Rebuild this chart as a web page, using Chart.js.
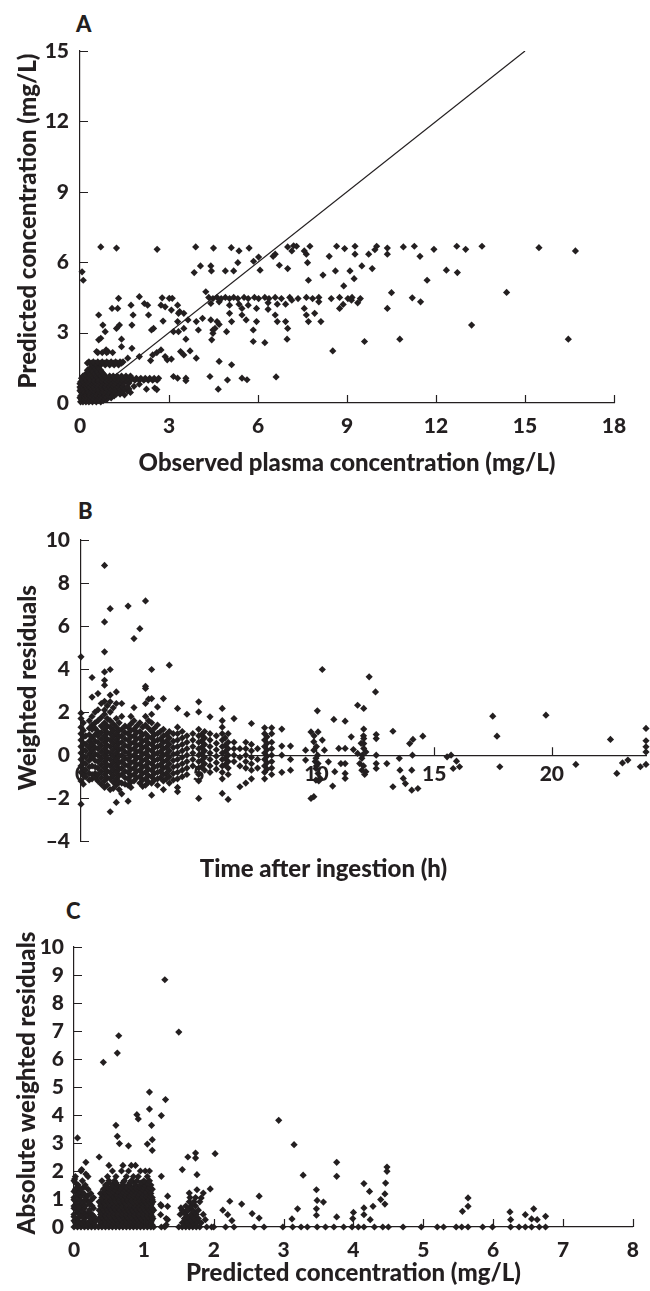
<!DOCTYPE html>
<html>
<head>
<meta charset="utf-8">
<script src="https://cdn.jsdelivr.net/npm/chart.js@4.4.1/dist/chart.umd.min.js"></script>
<style>
  body { margin: 0; background: #fff; width: 650px; height: 1291px; position: relative; overflow: hidden; }
  canvas { position: absolute; left: 0; }
  .panel { position: absolute; font: 900 22px Lato, sans-serif; color: #231f20; }
</style>
</head>
<body>
<div class="panel" style="left:76px; top:10px;">A</div>
<div class="panel" style="left:78px; top:497px;">B</div>
<div class="panel" style="left:66px; top:897px;">C</div>
<canvas id="chartA" width="650" height="485" style="top:0px"></canvas>
<canvas id="chartB" width="650" height="400" style="top:490px"></canvas>
<canvas id="chartC" width="650" height="396" style="top:895px"></canvas>
<script>
const ink = '#231f20';

// ---- Panel A: observed vs predicted (mg/L) ----
const identityLine = [0, 15];
const aScatter = [
  [0.7,6.65],[1.23,6.6],[2.6,6.55],[3.9,6.65],[4.5,6.6],[5.1,6.62],[5.7,6.6],[7.0,6.65],[7.2,6.7],[7.3,6.68],
  [7.75,6.68],[8.65,6.68],[9.27,6.68],[10.0,6.68],[10.9,6.65],[11.27,6.68],[12.7,6.68],[13.55,6.68],[16.7,6.48],[15.47,6.62],
  [13.0,6.55],[10.36,6.6],[10.36,6.34],[11.93,6.55],[9.27,6.34],[9.73,6.34],[9.94,6.53],[8.92,6.58],[7.63,6.34],[7.56,6.48],
  [7.14,6.48],[6.58,6.34],[6.51,6.25],[6.02,6.22],[5.36,6.48],[11.46,6.25],[8.4,6.25],[7.67,5.98],[5.85,6.04],[6.07,5.66],
  [6.72,5.87],[5.32,5.98],[4.06,5.84],[4.41,5.84],[3.85,5.56],[4.43,5.63],[4.9,5.63],[5.18,5.63],[7.0,5.73],[8.61,5.63],
  [8.19,5.45],[9.1,5.63],[9.5,5.84],[9.85,5.73],[9.24,5.3],[12.35,5.66],[12.72,5.56],[11.7,5.23],[7.7,5.23],[8.89,4.99],
  [0.07,5.59],[0.11,5.23],
  [4.34,4.5],[4.48,4.45],[4.62,4.5],[4.76,4.45],[4.9,4.5],[5.04,4.45],[5.18,4.5],[5.32,4.45],[5.53,4.5],[5.67,4.45],
  [5.88,4.5],[6.02,4.45],[6.23,4.5],[6.37,4.45],[6.58,4.5],[6.79,4.45],[7.07,4.5],[7.35,4.45],[7.63,4.5],[7.84,4.45],
  [8.05,4.5],[8.47,4.45],[8.75,4.5],[9.03,4.45],[9.17,4.5],[9.45,4.45],
  [4.41,4.24],[4.69,4.31],[5.04,4.17],[5.36,4.21],[5.46,4.03],[5.67,4.17],[5.95,4.03],[6.34,4.27],[6.65,4.21],[6.93,4.21],
  [7.14,4.38],[7.56,4.03],[8.05,4.31],[8.75,4.03],[8.87,4.2],[9.36,4.27],[9.15,4.38],[10.36,4.03],[10.5,4.7],[11.2,4.48],
  [11.48,4.31],[14.38,4.71],[4.24,4.74],
  [7.91,3.82],[7.7,3.47],[8.12,3.47],[7.63,3.75],[6.93,3.47],[7.0,3.18],[6.98,2.72],[6.58,3.75],[6.65,3.47],[6.34,3.99],
  [5.95,3.47],[5.84,3.11],[5.6,3.54],[5.46,3.75],[5.04,3.82],[5.11,3.47],[4.94,3.04],[4.62,3.47],[4.55,3.18],[4.41,3.54],
  [4.48,3.11],[4.44,2.69],[4.48,2.97],[4.69,3.35],[4.13,3.61],[3.92,3.47],[3.99,3.11],[3.64,3.54],[3.32,3.82],[3.29,3.47],
  [3.5,3.18],[3.32,3.04],[3.57,2.72],[3.15,3.04],[3.08,3.96],[3.01,4.46],[3.11,4.46],[2.77,4.48],[2.73,4.17],[2.87,4.1],
  [2.8,3.49],[2.48,3.18],[2.41,3.11],[2.31,3.75],[2.28,4.17],[2.17,4.24],[2.0,4.53],[1.72,4.17],[1.79,3.75],[1.75,3.32],
  [1.3,4.46],[1.08,4.03],[1.27,4.03],[0.63,3.75],[0.77,3.32],[0.85,3.04],[1.23,3.18],[1.33,3.32],[1.4,2.72],[0.63,2.69],
  [0.7,2.76],[0.88,2.26],[0.94,2.19],[1.4,2.4],[1.75,2.33],[1.61,1.91],[0.56,2.19],[3.5,3.82],[3.36,3.89],[3.29,4.17],
  [2.73,2.26],[2.59,2.15],[2.45,2.05],[2.38,1.81],[2.87,1.98],[2.94,1.84],[3.08,1.87],[3.39,2.19],[3.5,2.05],[3.71,2.22],
  [3.92,1.91],[5.84,2.62],[6.23,2.57],[9.59,2.62],[10.78,2.72],[16.46,2.72],[13.2,3.32],[8.52,2.22],[2.0,1.98],
  [3.15,1.13],[3.29,1.06],[3.57,1.06],[3.57,0.95],[4.38,1.13],[4.97,0.98],[5.46,1.06],[5.63,0.99],[6.61,1.11],[4.66,0.59],
  [4.69,1.77],[5.11,1.63],[2.24,0.59],[2.52,0.64],[2.59,0.57],[1.82,0.71],[1.65,0.85],[2.0,0.8],[1.5,0.35],[1.7,0.45]
];
// dense cluster near the origin, one row per predicted level: [predicted, [observed...]]
const aClusterRows = [
  [0.05, [0.02,0.1,0.2,0.3,0.42,0.55,0.7]],
  [0.1,  [0.08,0.25,0.36,0.48,0.62,0.78]],
  [0.15, [0.05,0.15,0.28,0.38,0.5,0.62,0.9]],
  [0.22, [0.0,0.1,0.2,0.32,0.44,0.56,0.68,0.8,1.05]],
  [0.3,  [0.02,0.12,0.22,0.35,0.47,0.58,0.7,0.85,1.0,1.15]],
  [0.38, [0.08,0.18,0.28,0.4,0.52,0.64,0.77,0.92,1.07,1.22,1.35]],
  [0.45, [0.05,0.18,0.3,0.42,0.55,0.68,0.8,0.95,1.1,1.25,1.4]],
  [0.52, [0.0,0.1,0.24,0.36,0.48,0.61,0.74,0.87,1.0,1.15,1.3,1.45,1.6]],
  [0.6,  [0.02,0.12,0.25,0.37,0.5,0.62,0.75,0.9,1.05,1.2,1.35,1.5,1.65]],
  [0.68, [0.0,0.1,0.22,0.35,0.48,0.6,0.72,0.86,1.0,1.15,1.3,1.45,1.58]],
  [0.75, [0.06,0.18,0.3,0.43,0.56,0.7,0.83,0.97,1.1,1.25,1.4]],
  [0.82, [0.0,0.1,0.22,0.35,0.48,0.6,0.72,0.86,1.0,1.15,1.3,1.45]],
  [0.9,  [0.02,0.14,0.27,0.4,0.52,0.65,0.78,0.92,1.05,1.2,1.35,1.5,1.62]],
  [0.97, [0.08,0.2,0.33,0.46,0.59,0.72,0.85,0.98,1.12,1.27,1.42,1.55,1.7,1.85,2.0,2.15,2.3,2.45,2.6]],
  [1.05, [0.05,0.2,0.33,0.47,0.6,0.75,0.9,1.02,1.15,1.3,1.45,1.6,1.75,1.9,2.05,2.2,2.35,2.5,2.65]],
  [1.15, [0.1,0.25,0.4,0.55,0.7,0.85,1.0,1.12,1.25,1.4,1.55,1.7]],
  [1.22, [0.18,0.32,0.5,0.66,0.8]],
  [1.3,  [0.3,0.45,0.6,0.75]],
  [1.4,  [0.25,0.4,0.55,0.7]],
  [1.5,  [0.35,0.5,0.62]],
  [1.62, [0.4,0.55,0.7,0.85,1.0,1.15,1.3]],
  [1.7,  [0.25,0.38,0.52,0.68,0.82,0.97,1.12,1.27,1.4]],
  [1.75, [0.3,0.45,0.6,0.75,0.9,1.05,1.2,1.35,1.45]],
  [2.15, [0.6,0.75,0.9,1.1]]
];

// ---- Panel B: weighted residuals vs time (h), one column per sampling time ----
const bColumns = [
  [0.0,  [4.57,1.95,1.7,1.3,1.0,0.7,0.4,0.1,-0.2,-0.5,-0.8,-1.2,-2.28]],
  [0.1,  [1.5,1.15,0.85,0.55,0.25,-0.05,-0.35,-0.65,-0.95,-1.35]],
  [0.2,  [0.9,0.5,0.2,-0.1,-0.4,-0.7,-1.0]],
  [0.35, [1.6,1.25,0.95,0.65,0.35,0.05,-0.25,-0.55,-0.85,-1.15]],
  [0.47, [3.61,2.7,1.8,1.4,1.2,0.8,0.5,0.2,-0.1,-0.5,-0.9,-1.1]],
  [0.6,  [2.0,1.5,1.25,0.95,0.65,0.35,0.05,-0.25,-0.55,-0.85,-1.05]],
  [0.72, [2.86,2.1,1.6,1.1,0.9,0.6,0.3,0.0,-0.3,-0.6,-0.9,-1.2]],
  [0.86, [2.4,1.75,1.35,1.05,0.75,0.45,0.15,-0.15,-0.45,-0.75,-1.05,-1.35]],
  [1.0,  [8.82,6.19,4.8,3.87,3.48,3.25,2.5,2.1,1.9,1.5,1.2,0.9,0.6,0.3,0.0,-0.3,-0.6,-0.9,-1.2,-1.5]],
  [1.12, [2.3,1.7,1.35,1.05,0.75,0.45,0.15,-0.15,-0.45,-0.75,-1.05,-1.4]],
  [1.24, [6.81,3.98,2.79,2.48,2.0,1.6,1.3,1.0,0.7,0.4,0.1,-0.2,-0.5,-0.8,-1.1,-1.6,-2.63]],
  [1.37, [2.2,1.45,1.15,0.85,0.55,0.25,-0.05,-0.35,-0.65,-0.95,-1.25,-1.55]],
  [1.5,  [2.94,2.4,1.7,1.3,1.0,0.7,0.4,0.1,-0.2,-0.5,-0.8,-1.1,-1.4,-2.2]],
  [1.62, [1.5,1.15,0.85,0.55,0.25,-0.05,-0.35,-0.65,-0.95,-1.25,-1.6]],
  [1.73, [2.4,1.8,1.2,0.9,0.6,0.3,0.0,-0.3,-0.6,-0.9,-1.3,-1.8]],
  [1.87, [1.35,1.05,0.75,0.45,0.15,-0.15,-0.45,-0.75,-1.05,-1.35]],
  [2.0,  [6.93,1.3,1.0,0.7,0.4,0.1,-0.2,-0.5,-0.8,-1.1,-1.4,-2.14]],
  [2.12, [1.8,1.45,1.15,0.85,0.55,0.25,-0.05,-0.35,-0.65,-0.95,-1.25,-1.5]],
  [2.25, [5.42,2.21,1.6,1.2,0.9,0.6,0.3,0.0,-0.3,-0.6,-0.9,-1.2]],
  [2.37, [1.35,1.05,0.75,0.45,0.15,-0.15,-0.45,-0.75,-1.05]],
  [2.5,  [5.88,1.5,1.1,0.8,0.5,0.2,-0.1,-0.4,-0.7,-1.0,-1.3]],
  [2.62, [1.3,0.95,0.65,0.35,0.05,-0.25,-0.55,-0.85,-1.15,-1.45]],
  [2.74, [7.17,3.2,3.1,2.4,1.8,1.4,1.0,0.7,0.4,0.1,-0.2,-0.5,-0.8,-1.1,-1.4]],
  [2.87, [2.6,1.6,1.25,0.85,0.55,0.25,-0.05,-0.35,-0.65,-0.95,-1.25]],
  [3.0,  [3.98,2.63,1.9,1.5,1.1,0.8,0.5,0.2,-0.1,-0.4,-0.7,-1.0,-1.3,-1.86]],
  [3.12, [1.25,0.95,0.65,0.35,0.05,-0.25,-0.55,-0.85,-1.15]],
  [3.25, [2.24,1.4,1.0,0.7,0.4,0.1,-0.2,-0.5,-0.8,-1.1,-1.4]],
  [3.37, [1.1,0.75,0.45,0.15,-0.15,-0.45,-0.75,-1.05]],
  [3.5,  [2.63,1.2,0.9,0.6,0.3,0.0,-0.3,-0.6,-0.9,-1.2,-1.6]],
  [3.62, [0.95,0.65,0.35,0.05,-0.25,-0.55,-0.85,-1.1]],
  [3.75, [4.18,1.1,0.8,0.5,0.2,-0.1,-0.4,-0.7,-1.0,-1.3]],
  [3.92, [1.0,0.65,0.35,0.05,-0.25,-0.55,-0.85,-1.15]],
  [4.1,  [2.17,1.3,1.0,0.7,0.4,0.1,-0.2,-0.5,-0.8,-1.1,-1.5,-1.7]],
  [4.3,  [1.1,0.8,0.5,0.2,-0.1,-0.4,-0.7,-1.0]],
  [4.5,  [1.9,0.9,0.6,0.3,0.0,-0.3,-0.6,-0.9]],
  [4.75, [1.0,0.7,0.4,0.1,-0.2,-0.5]],
  [5.0,  [2.48,2.01,1.2,0.9,0.6,0.3,0.0,-0.3,-0.6,-0.9,-1.2,-2.01]],
  [5.12, [0.95,0.65,0.35,0.05,-0.25,-0.55]],
  [5.25, [1.1,0.8,0.5,0.2,-0.1,-0.4,-0.7]],
  [5.48, [1.78,1.0,0.7,0.4,0.1,-0.2,-0.5,-0.8]],
  [5.75, [0.9,0.55,0.25,-0.05,-0.35,-0.65]],
  [6.0,  [2.17,1.6,1.3,1.0,0.7,0.4,0.1,-0.2,-0.5,-0.8,-1.1,-1.78]],
  [6.12, [0.8,0.45,0.15,-0.15,-0.45]],
  [6.25, [1.0,0.6,0.3,0.0,-0.3,-0.6,-0.9,-2.06]],
  [6.5,  [1.7,0.6,0.3,0.0,-0.3]],
  [6.75, [0.3,-0.1,-0.5,-1.47]],
  [7.0,  [0.6,0.3,0.0,-0.3,-0.6,-1.3]],
  [7.24, [1.47,0.5,0.2,-0.1,-0.4,-0.7,-1.1]],
  [7.5,  [0.3,-0.2,-0.6]],
  [7.8,  [1.27,1.0,0.7,0.4,0.1,-0.2,-0.5,-0.8,-1.1]],
  [7.9,  [0.85,0.55,0.25,-0.05,-0.35,-0.65]],
  [8.1,  [1.27,1.0,0.6,0.3,0.0,-0.3,-0.6,-0.9]],
  [8.53, [1.21,0.42,0.0,-0.8]],
  [8.9,  [0.42,-0.2,-0.7]]
];
const bScatter = [
  [10.04,2.06],[10.25,3.98],[10.74,1.66],[11.22,1.58],[11.75,2.32],[12.01,2.17],[12.24,3.64],[12.51,2.94],[13.25,1.11],[14.1,0.73],
  [13.96,0.54],[14.52,0.88],[17.49,1.81],[17.67,0.88],[19.75,1.86],[22.49,0.73],[24,1.24],[24,0.67],[24,0.39],[24,0.15],
  [24,-0.43],[23.76,-0.54],[23.23,-0.23],[23.0,-0.36],[22.76,-0.85],[21.02,-0.43],[17.79,-0.54],[15.72,0],[15.55,-0.08],[15.95,-0.28],
  [16.08,-0.54],[15.81,-0.62],[14.08,0],[13.52,-0.15],[13.55,-0.7],[13.69,-1.08],[13.78,-1.32],[13.25,-1.47],[14.05,-1.63],[14.31,-1.55],
  [14.05,-0.7],[12.99,-0.39],[12.54,-0.39],[12.54,-0.62],[12.54,0.77],[12.54,0.96],[12.54,0],[12.01,1.21],[12.01,0.77],[12.01,0.54],
  [12.01,0.31],[11.93,-0.15],[11.84,-0.39],[11.93,-0.7],[12.1,-0.77],[11.75,0.08],[11.57,0.26],[11.48,0.85],[11.22,0.31],[11.22,-0.39],
  [11.22,-0.85],[11.22,-1.08],[10.95,0.31],[11.04,-0.39],[10.69,-1.44],[10.78,-0.77],[10.51,-0.31],[10.34,0.23],[10.25,0.7],[10.07,1.08],
  [10.16,-1.08],[9.98,-1.16],[9.89,-1.93],[9.77,-2.01],[9.77,1.08],[9.89,0.62],[9.89,0.23],[9.98,-0.15],[10.07,-0.39],[9.98,-0.62],
  [10.07,-0.85],[9.54,-0.23],[9.54,0.23],[12.0,-0.5],[12.05,-0.9],[11.95,0.0],[12.1,0.15],[11.9,0.55],[12.0,0.9],[10.0,0.4],
  [10.05,0.0],[9.95,-0.3],[10.0,-0.5],[10.1,-1.2],[9.9,0.9]
];

// ---- Panel C: absolute weighted residuals vs predicted (mg/L) ----
const cRows = [
  [0,    [0,0.05,0.1,0.15,0.2,0.25,0.3,0.35,0.4,0.45,0.5,0.55,0.6,0.65,0.7,0.75,0.8,0.85,0.9,0.95,1.0,1.05,1.1,1.14,
          1.25,1.3,1.5,1.55,1.6,1.65,1.7,1.75,1.8,1.9,1.97,2.0,2.17,2.29,2.58,2.72,2.99,3.13,3.25,3.34,3.48,3.6,3.72,
          3.86,3.98,4.07,4.15,4.3,4.42,4.5,4.71,4.97,5.2,5.29,5.47,5.55,5.64,5.85,5.99,6.25,6.37,6.46,6.55,6.66,6.75]],
  [0.07, [0.03,0.08,0.13,0.18,0.24,0.3,0.4,0.47,0.53,0.59,0.65,0.71,0.77,0.83,0.89,0.95,1.01,1.07,1.12,1.58,1.66,1.74]],
  [0.15, [0.02,0.1,0.2,0.28,0.38,0.44,0.5,0.56,0.62,0.68,0.74,0.8,0.86,0.92,0.98,1.04,1.1,1.55,1.62,1.7,1.76,1.82]],
  [0.22, [0.0,0.06,0.14,0.24,0.31,0.39,0.45,0.51,0.57,0.63,0.69,0.75,0.81,0.87,0.93,0.99,1.05,1.11,1.6,1.68,1.76]],
  [0.3,  [0.05,0.15,0.25,0.36,0.42,0.48,0.54,0.6,0.66,0.72,0.78,0.84,0.9,0.96,1.02,1.08,1.13,1.32,1.58,1.66,1.72,1.78]],
  [0.37, [0.0,0.08,0.12,0.21,0.29,0.4,0.46,0.52,0.58,0.64,0.7,0.76,0.82,0.88,0.94,1.0,1.06,1.12,1.62,1.7]],
  [0.45, [0.0,0.1,0.18,0.26,0.38,0.44,0.5,0.56,0.62,0.68,0.74,0.8,0.86,0.92,0.98,1.04,1.1,1.52,1.6,1.68,1.75,1.85]],
  [0.52, [0.06,0.14,0.22,0.39,0.45,0.51,0.57,0.63,0.69,0.75,0.81,0.87,0.93,0.99,1.05,1.11,1.58,1.72]],
  [0.6,  [0.04,0.12,0.22,0.36,0.42,0.48,0.54,0.6,0.66,0.72,0.78,0.84,0.9,0.96,1.02,1.08,1.14,1.55,1.64,1.7,1.78]],
  [0.67, [0.0,0.08,0.15,0.28,0.4,0.46,0.52,0.58,0.64,0.7,0.76,0.82,0.88,0.94,1.0,1.06,1.12,1.66]],
  [0.75, [0.0,0.08,0.16,0.26,0.38,0.44,0.5,0.56,0.62,0.68,0.74,0.8,0.86,0.92,0.98,1.04,1.1,1.25,1.6,1.68,1.74]],
  [0.82, [0.04,0.12,0.22,0.39,0.45,0.51,0.57,0.63,0.69,0.75,0.81,0.87,0.93,0.99,1.05,1.11,1.7]],
  [0.9,  [0.03,0.12,0.2,0.36,0.42,0.48,0.54,0.6,0.66,0.72,0.78,0.84,0.9,0.96,1.02,1.08,1.13,1.65,1.72,1.8]],
  [0.97, [0.0,0.08,0.16,0.25,0.4,0.46,0.52,0.58,0.64,0.7,0.76,0.82,0.88,0.94,1.0,1.06,1.12]],
  [1.05, [0.0,0.08,0.17,0.28,0.4,0.46,0.52,0.58,0.64,0.7,0.76,0.82,0.88,0.94,1.0,1.06,1.12,1.66,1.74]],
  [1.12, [0.04,0.1,0.2,0.43,0.49,0.55,0.61,0.67,0.73,0.79,0.85,0.91,0.97,1.03,1.09]],
  [1.2,  [0.05,0.14,0.24,0.38,0.45,0.52,0.6,0.68,0.74,0.8,0.86,0.92,0.98,1.04,1.1]],
  [1.27, [0.0,0.08,0.44,0.5,0.56,0.62,0.7,0.76,0.82,0.88,0.95,1.02,1.09]],
  [1.35, [0.02,0.1,0.2,0.42,0.5,0.58,0.66,0.72,0.78,0.85,0.9,0.98,1.06,1.12]],
  [1.42, [0.05,0.14,0.48,0.54,0.6,0.68,0.75,0.82,0.88,0.94,1.0,1.08]],
  [1.5,  [0.06,0.16,0.45,0.55,0.62,0.7,0.78,0.88,0.95,1.02,1.1]],
  [1.58, [0.02,0.5,0.6,0.7,0.8,0.86,0.96,1.04]],
  [1.65, [0.0,0.12,0.4,0.5,0.58,0.72,0.82,0.9,1.0,1.08]],
  [1.8,  [0.02,0.2,0.48,0.6,0.75,0.85,0.92,1.05]],
  [2.0,  [0.1,0.55,0.68,0.78,0.95,1.02,1.08]],
  [2.2,  [0.5,0.7,0.82,0.88]]
];
const cScatter = [
  [1.3,8.83],[1.5,6.96],[0.64,6.83],[0.62,6.21],[0.42,5.88],[1.08,4.82],[1.31,4.55],[1.08,4.21],[1.25,3.98],[0.9,4.01],
  [0.92,3.86],[1.11,3.63],[0.6,3.63],[0.05,3.18],[0.62,3.24],[1.12,3.12],[1.05,2.96],[1.12,2.74],[0.65,2.98],[0.78,2.9],
  [2.93,3.81],[3.15,2.94],[2.02,2.62],[1.74,2.64],[1.74,2.46],[1.63,2.5],[1.55,2.05],[1.76,1.87],[1.95,1.36],[1.25,1.81],
  [0.36,2.5],[0.17,2.31],[0.11,2.05],[0.17,1.89],[0.01,1.71],[3.28,1.85],[3.76,2.31],[3.76,1.81],[3.47,1.33],[3.48,0.95],
  [3.57,0.89],[3.47,0.65],[3.47,0.42],[4.48,2.14],[4.48,1.99],[4.46,1.57],[4.45,1.18],[4.45,0.82],[4.39,0.98],[4.15,1.55],
  [4.23,1.27],[4.15,0.68],[4.28,0.74],[4.15,0.44],[4.0,0.52],[3.99,0.3],[4.24,0.26],[3.76,0.36],[3.2,0.65],[3.12,0.29],
  [2.65,1.1],[2.65,0.32],[2.55,0.48],[2.4,0.82],[2.23,0.92],[2.13,0.6],[2.2,0.44],[2.26,0.23],[5.64,1.04],[5.64,0.74],
  [5.56,0.56],[6.24,0.54],[6.46,0.44],[6.58,0.65],[6.63,0.26],[6.55,0.29],[6.75,0.38],[6.25,0.26],[1.85,1.21],[1.82,1.04],
  [1.76,1.33],[1.65,1.21],[1.7,0.86],[1.62,0.62],[1.53,0.68],[1.34,1.1],[1.34,0.74],[1.34,0.26],[1.32,0.08],[1.24,0.8],
  [1.24,0.44],[1.88,0.26]
];

// ---- helpers ----
const fromPairs = list => list.map(([x, y]) => ({ x, y }));
const fromRows = rows => rows.flatMap(([y, xs]) => xs.map(x => ({ x, y })));
const fromColumns = cols => cols.flatMap(([x, ys]) => ys.map(y => ({ x, y })));

const tickFont = { family: 'Lato', size: 21, weight: '900' };
const titleFont = { family: 'Lato', size: 24, weight: '900' };
const dash = v => (v < 0 ? '\u2013' + Math.abs(v) : String(v));

// short tick marks pointing into the plot, plus the rotated y-axis title
const innerTicks = {
  id: 'innerTicks',
  afterDraw(chart, args, opts) {
    const { ctx } = chart;
    const xs = chart.scales.x, ys = chart.scales.y;
    const base = ys.getPixelForValue(opts.baseY);
    ctx.save();
    ctx.strokeStyle = ink;
    ctx.lineWidth = 1.2;
    ctx.beginPath();
    xs.ticks.forEach(t => {
      const px = Math.round(xs.getPixelForValue(t.value)) + 0.5;
      ctx.moveTo(px, base);
      ctx.lineTo(px, base - 8);
    });
    ys.ticks.forEach(t => {
      const py = Math.round(ys.getPixelForValue(t.value)) + 0.5;
      ctx.moveTo(xs.left, py);
      ctx.lineTo(xs.left + 8, py);
    });
    ctx.stroke();
    // y title, not squeezed to the axis height
    ctx.fillStyle = ink;
    ctx.font = `${titleFont.weight} ${titleFont.size}px ${titleFont.family}`;
    ctx.textAlign = 'center';
    ctx.textBaseline = 'middle';
    ctx.translate(opts.titleX, (ys.top + ys.bottom) / 2 + (opts.titleShift || 0));
    ctx.rotate(-Math.PI / 2);
    ctx.fillText(opts.yTitle, 0, 0);
    ctx.restore();
  }
};

function pointSet(data) {
  return {
    data,
    pointStyle: 'rectRot',
    pointRadius: 3.6,
    pointBackgroundColor: ink,
    pointBorderWidth: 0,
    showLine: false,
    clip: false
  };
}

function axis(min, max, step, extra) {
  return Object.assign({
    type: 'linear',
    min, max,
    ticks: { stepSize: step, includeBounds: false, autoSkip: false, maxRotation: 0, color: ink, font: tickFont, padding: 11, callback: dash },
    grid: { display: false, drawTicks: false },
    border: { display: true, color: ink, width: 1.2 }
  }, extra);
}

const common = {
  responsive: false,
  animation: false,
  events: [],
  plugins: { legend: { display: false }, tooltip: { enabled: false } }
};

// Panel A
new Chart(document.getElementById('chartA'), {
  type: 'scatter',
  data: {
    datasets: [
      {
        type: 'line',
        data: identityLine.map(v => ({ x: v, y: v })),
        borderColor: ink,
        borderWidth: 1.2,
        pointRadius: 0,
        order: 2
      },
      Object.assign(pointSet(fromPairs(aScatter).concat(fromRows(aClusterRows))), { order: 1 })
    ]
  },
  options: Object.assign({}, common, {
    layout: { padding: { left: 0, right: 36, top: 51, bottom: 0 } },
    plugins: Object.assign({}, common.plugins, {
      innerTicks: { baseY: 0, titleX: 28, titleShift: -6, yTitle: 'Predicted concentration (mg/L)' }
    }),
    scales: {
      x: axis(0, 18, 3, {
        title: { display: true, text: 'Observed plasma concentration (mg/L)', color: ink, font: titleFont, padding: { top: 0, bottom: 7 } },
        afterFit: s => { s.height = 82; }
      }),
      y: axis(0, 15, 3, { afterFit: s => { s.width = 80; } })
    }
  }),
  plugins: [innerTicks]
});

// Panel B
new Chart(document.getElementById('chartB'), {
  type: 'scatter',
  data: { datasets: [pointSet(fromColumns(bColumns).concat(fromPairs(bScatter)))] },
  options: Object.assign({}, common, {
    layout: { padding: { left: 0, right: 3, top: 50, bottom: 0 } },
    plugins: Object.assign({}, common.plugins, {
      innerTicks: { baseY: 0, titleX: 28, titleShift: -3, yTitle: 'Weighted residuals' },
      title: {
        display: true, position: 'bottom', text: 'Time after ingestion (h)',
        color: ink, font: titleFont, padding: { top: 14, bottom: 6 }
      }
    }),
    scales: {
      x: axis(0, 24, 5, {
        position: { y: 0 },
        ticks: { stepSize: 5, includeBounds: false, autoSkip: false, maxRotation: 0, color: ink, font: tickFont, padding: 6, callback: dash }
      }),
      y: axis(-4, 10, 2, { afterFit: s => { s.width = 81; } })
    }
  }),
  plugins: [innerTicks]
});

// Panel C
new Chart(document.getElementById('chartC'), {
  type: 'scatter',
  data: { datasets: [pointSet(fromRows(cRows).concat(fromPairs(cScatter)))] },
  options: Object.assign({}, common, {
    layout: { padding: { left: 0, right: 5, top: 52, bottom: 0 } },
    plugins: Object.assign({}, common.plugins, {
      innerTicks: { baseY: 0, titleX: 27, titleShift: -4, yTitle: 'Absolute weighted residuals' }
    }),
    scales: {
      x: axis(0, 8, 1, {
        title: { display: true, text: 'Predicted concentration (mg/L)', color: ink, font: titleFont, padding: { top: 0, bottom: 3 } },
        afterFit: s => { s.height = 64; }
      }),
      y: axis(0, 10, 1, {
        ticks: { stepSize: 1, includeBounds: false, autoSkip: false, maxRotation: 0, color: ink, font: tickFont, padding: 10, callback: dash },
        afterFit: s => { s.width = 74; }
      })
    }
  }),
  plugins: [innerTicks]
});
</script>
</body>
</html>
